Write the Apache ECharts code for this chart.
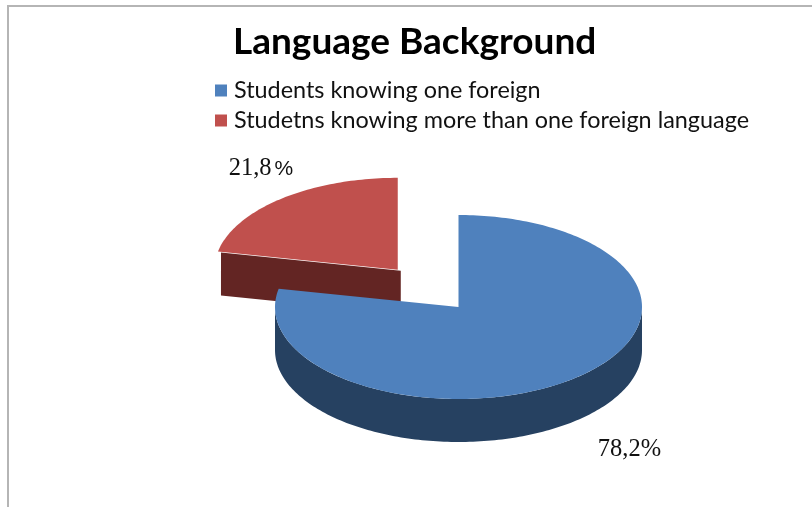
<!DOCTYPE html>
<html>
<head>
<meta charset="utf-8">
<style>html,body{margin:0;padding:0;background:#fff}#chart{width:812px;height:507px}</style>
<script src="https://cdn.jsdelivr.net/npm/echarts@6/dist/echarts.min.js"></script>
</head>
<body>
<div id="chart"></div>
<script>
// Share of students by number of foreign languages known
const categories = ['Students knowing one foreign', 'Studetns knowing more than one foreign language'];
const shares = [78.2, 21.8];
const topColors = ['#4f81bd', '#c0504d'];
const wallColors = ['#264161', '#632523'];

const total = shares.reduce((a, b) => a + b, 0);

// Tilted pie geometry: an ellipse for the top face and a fixed extrusion depth
const centre = { x: 458.5, y: 307 };
const rx = 183.5, ry = 92, depth = 43;
const explode = 96;

const point = (cx, cy, a) => [cx + rx * Math.sin(a), cy - ry * Math.cos(a)];

function arcPoints(cx, cy, from, to) {
  const n = Math.max(2, Math.ceil(Math.abs(to - from) / 0.02));
  const pts = [];
  for (let i = 0; i <= n; i++) pts.push(point(cx, cy, from + (to - from) * i / n));
  return pts;
}

const percentText = v => v.toFixed(1).replace('.', ',');

function sliceRenderer(index) {
  return function (params, api) {
    const value = api.value(0);
    let start = 0;
    for (let i = 0; i < index; i++) start += shares[i];
    const a0 = start / total * Math.PI * 2;
    const a1 = a0 + value / total * Math.PI * 2;
    const mid = (a0 + a1) / 2;

    // The smaller slice is pulled out from the centre along its mid angle
    const pulled = index > 0;
    const cx = centre.x + (pulled ? explode * Math.sin(mid) : 0);
    const cy = centre.y - (pulled ? explode * 0.5 * Math.cos(mid) : 0);

    const children = [];
    if (pulled) {
      // Cut face seen through the gap, set slightly off the top face
      const dx = 3, dy = 1;
      const end = point(cx, cy, a0);
      children.push({
        type: 'polygon',
        shape: { points: [
          [end[0] + dx, end[1] + dy], [cx + dx, cy + dy],
          [cx + dx, cy + dy + depth], [end[0] + dx, end[1] + dy + depth]
        ] },
        style: { fill: wallColors[index] }
      });
    } else {
      // Outer wall: the front half of the rim, extruded downwards
      const from = Math.PI / 2, to = Math.min(a1, Math.PI * 1.5);
      const upper = arcPoints(cx, cy, from, to);
      const lower = upper.map(p => [p[0], p[1] + depth]).reverse();
      children.push({
        type: 'polygon',
        shape: { points: upper.concat(lower) },
        style: { fill: wallColors[index] }
      });
    }

    children.push({
      type: 'polygon',
      shape: { points: [[cx, cy]].concat(arcPoints(cx, cy, a0, a1)) },
      style: { fill: topColors[index] }
    });

    // Value label: the percent sign is a touch smaller on the pulled slice
    const labelAt = pulled ? { x: 261, y: 169 } : { x: 629.5, y: 450 };
    children.push({
      type: 'text',
      style: {
        x: labelAt.x, y: labelAt.y,
        text: '{n|' + percentText(value) + '}{p|%}',
        rich: {
          n: { font: '24.5px "Liberation Serif"', fill: '#111' },
          p: pulled
            ? { font: '21px "Liberation Sans"', fill: '#111', padding: [0, 0, 0, 3] }
            : { font: '24.5px "Liberation Serif"', fill: '#111' }
        },
        align: 'center', verticalAlign: 'middle'
      }
    });
    return { type: 'group', children };
  };
}

const order = [1, 0];
const chart = echarts.init(document.getElementById('chart'), null, { renderer: 'canvas' });
chart.setOption({
  animation: false,
  backgroundColor: '#fff',
  title: {
    text: 'Language Background',
    left: 228, top: 19,
    textStyle: { fontFamily: 'Lato', fontWeight: 'bold', fontSize: 37, color: '#000' }
  },
  legend: {
    data: categories,
    orient: 'vertical',
    left: 210, top: 74,
    itemWidth: 12, itemHeight: 12, itemGap: 7,
    icon: 'rect',
    selectedMode: false,
    textStyle: { fontFamily: 'Lato', fontSize: 23.4, color: '#111', padding: [0, 0, 0, 2] }
  },
  graphic: [{
    type: 'polyline',
    shape: { points: [[8, 507], [8, 6], [812, 6]] },
    style: { stroke: '#b5b5b5', lineWidth: 2, fill: null }
  }],
  series: order.map(i => ({
    type: 'custom',
    name: categories[i],
    coordinateSystem: 'none',
    itemStyle: { color: topColors[i] },
    data: [[shares[i]]],
    renderItem: sliceRenderer(i)
  }))
});
</script>
</body>
</html>
